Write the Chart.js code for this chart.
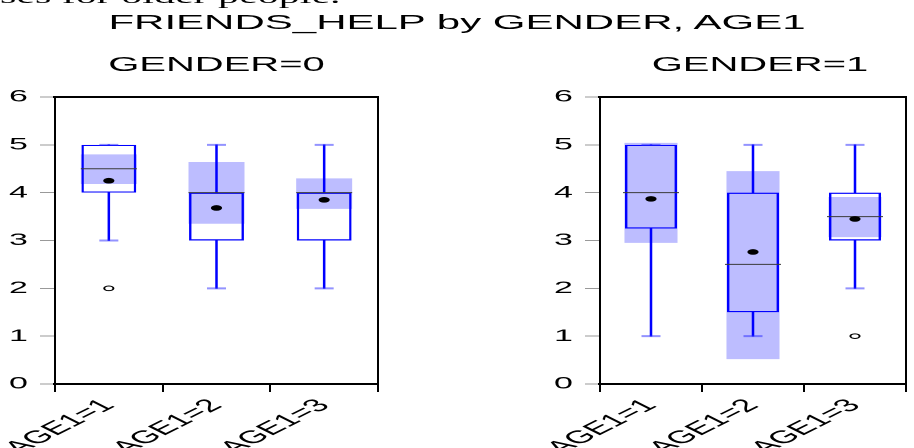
<!DOCTYPE html>
<html><head><meta charset="utf-8">
<script src="https://cdn.jsdelivr.net/npm/chart.js@4.4.0/dist/chart.umd.min.js"></script>
<style>
html,body{margin:0;padding:0;width:914px;height:448px;overflow:hidden;background:#fff;}
#wrap{position:absolute;left:0;top:0;width:457px;height:448px;transform:scaleX(2);transform-origin:0 0;}
#doc{position:absolute;left:0;top:-14.5px;font:21px/21px "Liberation Serif","Times New Roman",serif;white-space:nowrap;color:#000;}
#title{position:absolute;left:0;width:457px;top:10.5px;text-align:center;font:21px/21px "Liberation Sans",Arial,sans-serif;white-space:nowrap;color:#000;}
.sub{position:absolute;top:54px;width:200px;text-align:center;font:20px/20px "Liberation Sans",Arial,sans-serif;white-space:nowrap;color:#000;}
.box{position:absolute;top:0;height:448px;}
</style>
</head><body>
<div id="wrap">
  <div id="doc">ses for older people.</div>
  <div id="title">FRIENDS_HELP by GENDER, AGE1</div>
  <div class="sub" style="left:8.25px">GENDER=0</div>
  <div class="sub" style="left:280px">GENDER=1</div>
  <div class="box" style="left:0;width:228px"><canvas id="c0" width="228" height="448"></canvas></div>
  <div class="box" style="left:228px;width:240px"><canvas id="c1" width="240" height="448"></canvas></div>
</div>
<script>
const categories = ['AGE1=1', 'AGE1=2', 'AGE1=3'];
const yTickMin = 0, yTickMax = 6, yTickStep = 1;

// GENDER=0
const g0Q1 = [4, 3, 3];
const g0Q3 = [5, 4, 4];
const g0Median = [4.5, 4, 4];
const g0Mean = [4.25, 3.68, 3.85];
const g0WhiskerLow = [3, 2, 2];
const g0WhiskerHigh = [5, 5, 5];
const g0CiLow = [4.18, 3.35, 3.66];
const g0CiHigh = [4.8, 4.64, 4.3];
const g0Outliers = [2, null, null];

// GENDER=1
const g1Q1 = [3.25, 1.5, 3];
const g1Q3 = [5, 4, 4];
const g1Median = [4, 2.5, 3.5];
const g1Mean = [3.87, 2.76, 3.45];
const g1WhiskerLow = [1, 1, 2];
const g1WhiskerHigh = [5, 5, 5];
const g1CiLow = [2.95, 0.52, 3.07];
const g1CiHigh = [5.04, 4.45, 3.91];
const g1Outliers = [null, null, 1];

const FONT = '"Liberation Sans", Arial, sans-serif';

function pairs(a, b) { return a.map((v, i) => [v, b[i]]); }

function makeChart(id, d, pad) {
  return new Chart(document.getElementById(id), {
    type: 'bar',
    data: {
      labels: categories,
      datasets: [
        { type: 'bar', label: 'ci', data: pairs(d.ciLo, d.ciHi), backgroundColor: '#BDBDFF',
          borderWidth: 0, grouped: false, barPercentage: 0.52, categoryPercentage: 1, order: 10 },
        { type: 'bar', label: 'box', data: pairs(d.q1, d.q3), backgroundColor: 'rgba(0,0,0,0)',
          borderColor: '#0000FF', borderWidth: 1.2, borderSkipped: false, grouped: false,
          barPercentage: 0.51, categoryPercentage: 1, order: 9 },
        { type: 'bar', label: 'whiskerLow', data: pairs(d.wLo, d.q1), backgroundColor: '#0000FF',
          barThickness: 0.6, grouped: false, order: 8 },
        { type: 'bar', label: 'whiskerHigh', data: pairs(d.q3, d.wHi), backgroundColor: '#0000FF',
          barThickness: 0.6, grouped: false, order: 8 },
        { type: 'line', label: 'capLow', data: d.wLo, showLine: false, pointStyle: 'line',
          pointRadius: 4.75, pointBorderColor: 'rgba(40,40,255,0.5)', pointBorderWidth: 2, order: 7 },
        { type: 'line', label: 'capHigh', data: d.wHi, showLine: false, pointStyle: 'line',
          pointRadius: 4.75, pointBorderColor: 'rgba(40,40,255,0.5)', pointBorderWidth: 2, order: 7 },
        { type: 'line', label: 'median', data: d.med, showLine: false, pointStyle: 'line',
          pointRadius: 14, pointBorderColor: '#3a3a3a', pointBorderWidth: 1, order: 6 },
        { type: 'line', label: 'mean', data: d.mean, showLine: false, pointStyle: 'circle',
          pointRadius: 2.8, pointBackgroundColor: '#000', pointBorderColor: '#000', pointBorderWidth: 0, order: 5 },
        { type: 'line', label: 'outliers', data: d.out, showLine: false, pointStyle: 'circle',
          pointRadius: 2.3, pointBackgroundColor: '#fff', pointBorderColor: '#000', pointBorderWidth: 1, order: 4 }
      ]
    },
    options: {
      responsive: false, animation: false, devicePixelRatio: 2,
      events: [],
      layout: { padding: pad },
      plugins: { legend: { display: false }, tooltip: { enabled: false }, title: { display: false } },
      scales: {
        x: {
          type: 'category', offset: true, position: 'bottom',
          grid: { offset: true, drawOnChartArea: false, drawTicks: true, tickLength: 8, color: '#000', lineWidth: 1 },
          border: { display: true, color: '#000', width: 2 },
          ticks: { font: { family: FONT, size: 18 }, color: '#000', minRotation: 45, maxRotation: 45, padding: 3 },
          afterFit: a => { a.height = 64; a.paddingLeft = 0; a.paddingRight = 0; }
        },
        xTop: {
          type: 'category', position: 'top', offset: true,
          grid: { display: false }, ticks: { display: false },
          border: { display: true, color: '#000', width: 2 },
          afterFit: a => { a.height = 0; a.paddingLeft = 0; a.paddingRight = 0; }
        },
        y: {
          type: 'linear', position: 'left', min: yTickMin, max: yTickMax,
          ticks: { stepSize: yTickStep, font: { family: FONT, size: 17 }, color: '#000', padding: 6 },
          grid: { drawOnChartArea: false, drawTicks: true, tickLength: 7.5, color: '#999', lineWidth: 1 },
          border: { display: true, color: '#000', width: 1 },
          afterFit: a => { a.width = 23; a.paddingTop = 0; a.paddingBottom = 0; }
        },
        yRight: {
          type: 'linear', position: 'right', min: yTickMin, max: yTickMax,
          grid: { display: false }, ticks: { display: false },
          border: { display: true, color: '#000', width: 1 },
          afterFit: a => { a.width = 0; a.paddingTop = 0; a.paddingBottom = 0; }
        }
      }
    }
  });
}

makeChart('c0', {
  q1: g0Q1, q3: g0Q3, med: g0Median, mean: g0Mean, wLo: g0WhiskerLow, wHi: g0WhiskerHigh,
  ciLo: g0CiLow, ciHi: g0CiHigh, out: g0Outliers
}, { left: 4.5, right: 39, top: 97, bottom: 0 });

makeChart('c1', {
  q1: g1Q1, q3: g1Q3, med: g1Median, mean: g1Mean, wLo: g1WhiskerLow, wHi: g1WhiskerHigh,
  ciLo: g1CiLow, ciHi: g1CiHigh, out: g1Outliers
}, { left: 49, right: 6, top: 97, bottom: 0 });
</script>
</body></html>
